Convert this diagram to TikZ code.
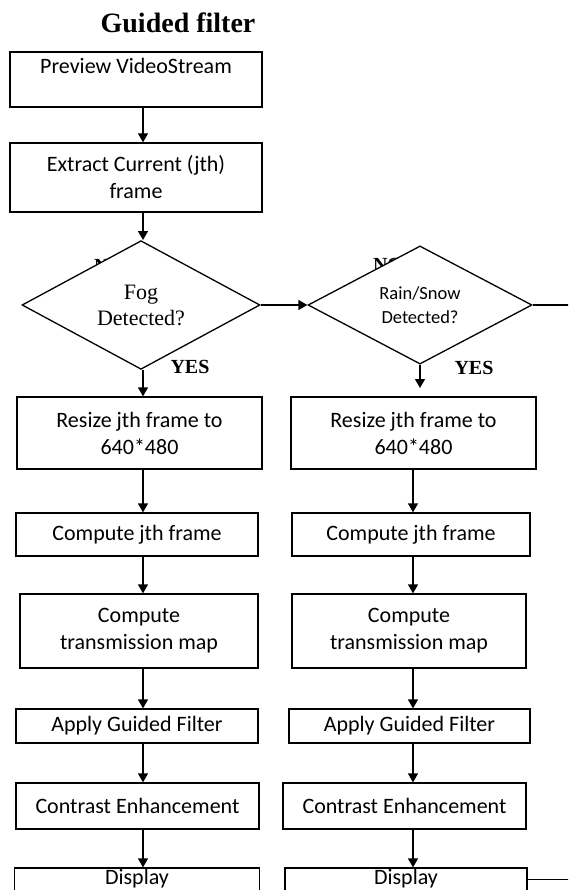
\documentclass[tikz,border=0pt]{standalone}
\usepackage{fontspec}
\setmainfont{Carlito}
\newfontfamily\timesfont{Liberation Serif}
\usetikzlibrary{arrows.meta,shapes.geometric}

\begin{document}
\begin{tikzpicture}[x=1pt, y=-1pt, >={Triangle[width=10pt,length=9pt]},
	stepbox/.style={draw, line width=1.3pt, inner sep=0pt, align=center,
		font=\fontsize{22}{27}\selectfont},
	decision/.style={diamond, draw, line width=1.3pt, inner sep=0pt,
		fill=white, align=center},
	answer/.style={font=\timesfont\bfseries\fontsize{20}{24}\selectfont},
	flow/.style={->, line width=1.3pt}]
	\useasboundingbox (0,0) rectangle (568,890);
	\clip (0,0) rectangle (568,890);

	\node [font=\timesfont\bfseries\fontsize{28}{32}\selectfont]
	(title) at (178,23) {Guided filter};

	\node [stepbox, minimum width=252pt, minimum height=55pt]
	(preview) at (136,79.5) {Preview VideoStream\\ \mbox{}};
	\node [stepbox, minimum width=252pt, minimum height=69pt]
	(extract) at (136,177.5) {Extract Current (jth)\\frame};

	% NO labels sit behind the diamonds
	\node [answer] (noFog) at (109,266) {NO};
	\node [answer] (noRain) at (388,265) {NO};

	\node [decision, minimum width=238pt, minimum height=112pt,
		font=\timesfont\fontsize{22}{26}\selectfont]
	(fog) at (141,305) {Fog\\Detected?};
	\node [decision, minimum width=224pt, minimum height=102pt,
		font=\fontsize{18.5}{24}\selectfont]
	(rain) at (420,305) {Rain/Snow\\Detected?};

	\node [answer] (yesFog) at (190,367) {YES};
	\node [answer] (yesRain) at (474,368) {YES};

	% fog column
	\node [stepbox, minimum width=245pt, minimum height=72pt]
	(resizeFog) at (139.5,433) {Resize jth frame to\\640*480};
	\node [stepbox, minimum width=242pt, minimum height=43pt]
	(computeFog) at (137,534.5) {Compute jth frame};
	\node [stepbox, minimum width=238pt, minimum height=74pt]
	(transFog) at (139,631) {Compute\\transmission map};
	\node [stepbox, minimum width=242pt, minimum height=34pt]
	(guidedFog) at (137,726) {Apply Guided Filter};
	\node [stepbox, minimum width=243pt, minimum height=46pt]
	(contrastFog) at (137.5,806) {Contrast Enhancement};
	\node [stepbox, minimum width=245pt, minimum height=50pt,
		text height=16pt, text depth=34pt]
	(displayFog) at (137,893) {Display};

	% rain/snow column
	\node [stepbox, minimum width=245pt, minimum height=72pt]
	(resizeRain) at (413.5,433) {Resize jth frame to\\640*480};
	\node [stepbox, minimum width=238pt, minimum height=43pt]
	(computeRain) at (411,534.5) {Compute jth frame};
	\node [stepbox, minimum width=234pt, minimum height=74pt]
	(transRain) at (409,631) {Compute\\transmission map};
	\node [stepbox, minimum width=241pt, minimum height=34pt]
	(guidedRain) at (409.5,726) {Apply Guided Filter};
	\node [stepbox, minimum width=243pt, minimum height=46pt]
	(contrastRain) at (404.5,806) {Contrast Enhancement};
	\node [stepbox, minimum width=242pt, minimum height=50pt,
		text height=16pt, text depth=34pt]
	(displayRain) at (406,893) {Display};

	\coordinate (colFog) at (143,0);
	\coordinate (colRain) at (413,0);
	\coordinate (rainYes) at (420,388);
	\coordinate (edge) at (570,0);

	\draw[flow] (preview.south -| colFog) -- (extract.north -| colFog);
	\draw[flow] (extract.south -| colFog) -- (fog.north -| colFog);
	\draw[flow] (fog.east) -- (rain.west);
	\draw[line width=1.3pt] (rain.east) -- (rain.east -| edge);
	\draw[flow] (fog.south -| colFog) -- (resizeFog.north -| colFog);
	\draw[flow] (rain.south) -- (rainYes);

	\draw[flow] (resizeFog.south -| colFog) -- (computeFog.north -| colFog);
	\draw[flow] (computeFog.south -| colFog) -- (transFog.north -| colFog);
	\draw[flow] (transFog.south -| colFog) -- (guidedFog.north -| colFog);
	\draw[flow] (guidedFog.south -| colFog) -- (contrastFog.north -| colFog);
	\draw[flow] (contrastFog.south -| colFog) -- (displayFog.north -| colFog);

	\draw[flow] (resizeRain.south -| colRain) -- (computeRain.north -| colRain);
	\draw[flow] (computeRain.south -| colRain) -- (transRain.north -| colRain);
	\draw[flow] (transRain.south -| colRain) -- (guidedRain.north -| colRain);
	\draw[flow] (guidedRain.south -| colRain) -- (contrastRain.north -| colRain);
	\draw[flow] (contrastRain.south -| colRain) -- (displayRain.north -| colRain);
	\draw[line width=1.3pt] ([yshift=-12pt]displayRain.north east)
		-- ([yshift=-12pt]displayRain.north east -| edge);
\end{tikzpicture}
\end{document}
